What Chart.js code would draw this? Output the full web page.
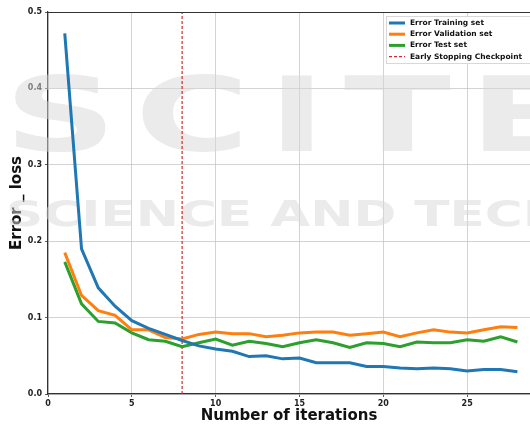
<!DOCTYPE html>
<html>
<head>
<meta charset="utf-8">
<script src="https://cdn.jsdelivr.net/npm/chart.js@4"></script>
<style>
  html, body { margin: 0; padding: 0; background: #fff; }
  #wrap { width: 530px; height: 425px; position: relative; }
</style>
</head>
<body>
<div id="wrap"><canvas id="chart-loss"></canvas></div>
<script>
// iterations 1..28
const iterations = [1,2,3,4,5,6,7,8,9,10,11,12,13,14,15,16,17,18,19,20,21,22,23,24,25,26,27,28];
const trainLoss = [0.472,0.190,0.139,0.115,0.096,0.086,0.078,0.070,0.063,0.059,0.056,0.049,0.050,0.046,0.047,0.041,0.041,0.041,0.036,0.036,0.034,0.033,0.034,0.033,0.030,0.032,0.032,0.029];
const valLoss   = [0.185,0.129,0.109,0.103,0.084,0.084,0.074,0.072,0.078,0.081,0.079,0.079,0.075,0.077,0.080,0.081,0.081,0.077,0.079,0.081,0.075,0.080,0.084,0.081,0.080,0.084,0.088,0.087];
const testLoss  = [0.173,0.118,0.095,0.093,0.080,0.071,0.069,0.062,0.067,0.072,0.064,0.069,0.066,0.062,0.067,0.071,0.067,0.061,0.067,0.066,0.062,0.068,0.067,0.067,0.071,0.069,0.075,0.068];
const checkpointIter = 8;
const seriesLabels = ['Error Training set', 'Error Validation set', 'Error Test set', 'Early Stopping Checkpoint'];
const xTicks = [0, 5, 10, 15, 20, 25];
const yTicks = [0.0, 0.1, 0.2, 0.3, 0.4, 0.5];

const toPts = arr => arr.map((v, i) => ({ x: iterations[i], y: v }));
const FONT = '"DejaVu Sans", sans-serif';

// faint publisher watermark behind the plot
function stretchText(c, txt, x, y, width) {
  const w = c.measureText(txt).width;
  c.save();
  c.translate(x, y);
  c.scale(width / w, 1);
  c.fillText(txt, 0, 0);
  c.restore();
}
const watermark = {
  id: 'watermark',
  beforeDatasetsDraw(chart) {
    const c = chart.ctx;
    c.save();
    c.fillStyle = 'rgba(215,215,215,0.5)';
    c.textBaseline = 'alphabetic';
    c.font = 'bold 104px ' + FONT;
    c.letterSpacing = '12px';
    stretchText(c, 'SCITE', 4, 151, 590);
    c.letterSpacing = '0px';
    c.font = 'bold 35px ' + FONT;
    stretchText(c, 'SCIENCE AND TECH', 6, 226, 560);
    c.restore();
  }
};

// top spine + legend box like matplotlib
const frameAndLegend = {
  id: 'frameAndLegend',
  afterDraw(chart) {
    const c = chart.ctx, a = chart.chartArea;
    c.save();
    c.strokeStyle = '#333';
    c.lineWidth = 1;
    c.beginPath(); c.moveTo(a.left, a.top + 0.5); c.lineTo(a.right, a.top + 0.5); c.stroke();

    const bx = 386, by = 16, bw = 150, bh = 47;
    c.fillStyle = 'rgba(255,255,255,0.85)';
    c.fillRect(bx, by, bw, bh);
    c.strokeStyle = '#d8d8d8';
    c.strokeRect(bx + 0.5, by + 0.5, bw, bh);
    c.font = 'bold 7.5px ' + FONT;
    c.textBaseline = 'middle';
    chart.data.datasets.forEach((ds, i) => {
      const y = by + 7 + i * 11.2;
      c.strokeStyle = ds.borderColor;
      c.lineWidth = ds.borderWidth;
      c.setLineDash(ds.borderDash || []);
      c.beginPath(); c.moveTo(bx + 3, y); c.lineTo(bx + 19, y); c.stroke();
      c.setLineDash([]);
      c.fillStyle = '#111';
      c.fillText(ds.label, bx + 24, y);
    });
    c.restore();
  }
};

new Chart(document.getElementById('chart-loss'), {
  type: 'line',
  data: {
    datasets: [
      { label: seriesLabels[0], data: toPts(trainLoss), borderColor: '#1f77b4', borderWidth: 3, pointRadius: 0, tension: 0 },
      { label: seriesLabels[1], data: toPts(valLoss),   borderColor: '#ff7f0e', borderWidth: 3, pointRadius: 0, tension: 0 },
      { label: seriesLabels[2], data: toPts(testLoss),  borderColor: '#2ca02c', borderWidth: 3, pointRadius: 0, tension: 0 },
      { label: seriesLabels[3], data: [{ x: checkpointIter, y: yTicks[0] }, { x: checkpointIter, y: yTicks[yTicks.length - 1] }],
        borderColor: '#d62728', borderWidth: 1.2, borderDash: [3, 2], pointRadius: 0 }
    ]
  },
  options: {
    responsive: true,
    maintainAspectRatio: false,
    animation: false,
    layout: { padding: { top: 12, right: 0, left: 8, bottom: 0 } },
    plugins: { legend: { display: false }, tooltip: { enabled: false } },
    scales: {
      x: {
        type: 'linear', min: 0, max: 28.75,
        afterBuildTicks: s => { s.ticks = xTicks.map(v => ({ value: v })); },
        afterFit: s => { s.height = 31; },
        grid: { color: '#c8c8c8', lineWidth: 0.8, drawTicks: true, tickLength: 3, tickColor: '#333' },
        border: { color: '#333', width: 1.2 },
        ticks: { color: '#222', font: { family: FONT, size: 8, weight: 'bold' }, padding: 2, maxRotation: 0 },
        title: { display: true, text: 'Number of iterations', color: '#111', font: { family: FONT, size: 15, weight: 'bold' }, padding: { top: -1, bottom: 0 } }
      },
      y: {
        min: 0, max: 0.5,
        afterBuildTicks: s => { s.ticks = yTicks.map(v => ({ value: v })); },
        afterFit: s => { s.width = 40; },
        grid: { color: '#c8c8c8', lineWidth: 0.8, tickLength: 3, tickColor: '#333' },
        border: { color: '#333', width: 1.2 },
        ticks: { color: '#222', font: { family: FONT, size: 8, weight: 'bold' }, padding: 3, callback: v => v.toFixed(1) },
        title: { display: true, text: 'Error _ loss', color: '#111', font: { family: FONT, size: 15, weight: 'bold' }, padding: { top: 0, bottom: 4 } }
      }
    }
  },
  plugins: [watermark, frameAndLegend]
});
</script>
</body>
</html>
